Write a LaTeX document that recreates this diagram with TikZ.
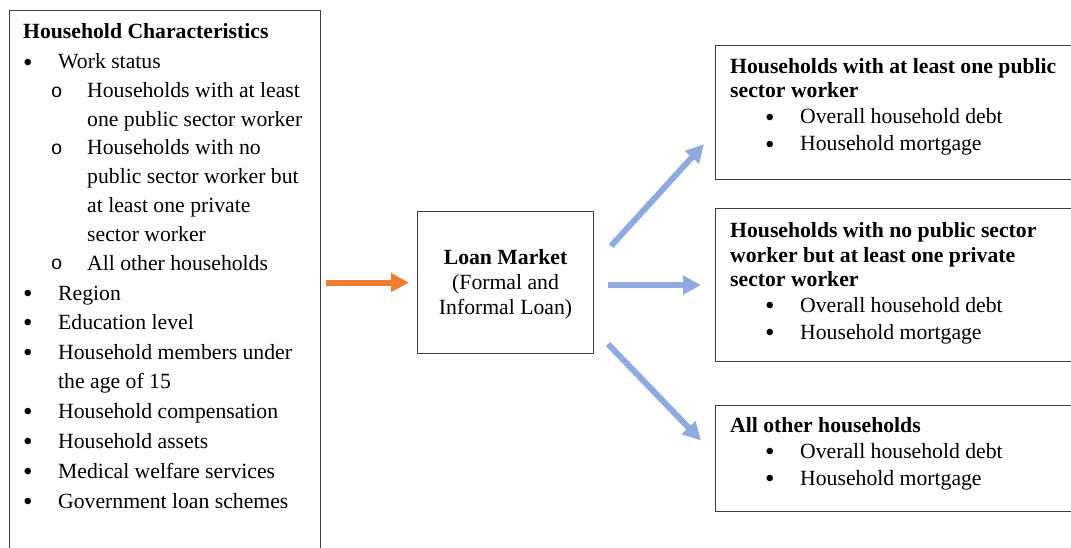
\documentclass[tikz,border=0pt]{standalone}
\usepackage{fontspec}
\usepackage{graphicx}
\setmainfont{Liberation Serif}
\newfontfamily\monofont{Liberation Mono}
\usetikzlibrary{arrows.meta,calc}
\definecolor{arrorange}{HTML}{ED7D31}
\definecolor{arrblue}{HTML}{8FAADC}
\definecolor{boxgray}{HTML}{404040}
\newcommand{\bul}{\llap{\raisebox{-2.6pt}{\scalebox{1.25}{\textbullet}}\hspace{25.5pt}}}
\newcommand{\subbul}{\llap{\raisebox{0.8pt}{\monofont\fontsize{19.5}{19.5}\selectfont o}\hspace{24.5pt}}}
\begin{document}
\begin{tikzpicture}[x=1pt,y=-1pt,
  frame/.style={draw=boxgray,line width=1.1pt,inner sep=0pt},
  txt/.style={anchor=base west,inner sep=0pt,font=\fontsize{21.7}{25}\selectfont},
  bold/.style={anchor=base west,inner sep=0pt,font=\fontsize{21.7}{25}\selectfont\bfseries},
  flow/.style={line width=6pt,-{Triangle[length=18pt,width=18pt]}}]
\useasboundingbox (0,0) rectangle (1071,548);
\fill[white] (0,0) rectangle (1071,548);
\clip (0,0) rectangle (1071,548);

% boxes
\node[frame,anchor=north west,minimum width=311pt,minimum height=560pt] (hc) at (9,10) {};
\node[frame,anchor=north west,minimum width=176pt,minimum height=142pt] (loan) at (417,211) {};
\node[inner sep=0pt,align=center,font=\fontsize{21.7}{25}\selectfont] (loantxt) at ($(loan.center)+(0,2)$)
      {\textbf{Loan Market}\\(Formal and\\Informal Loan)};
\node[frame,anchor=north west,minimum width=370pt,minimum height=134pt] (b1) at (715,45) {};
\node[frame,anchor=north west,minimum width=370pt,minimum height=153pt] (b2) at (715,208) {};
\node[frame,anchor=north west,minimum width=370pt,minimum height=106pt] (b3) at (715,405) {};

% left text
\node[bold] (hct) at (23,39) {Household Characteristics};
\node[txt] (l1) at (58,69) {\bul Work status};
\node[txt] (l2) at (87,98) {\subbul Households with at least};
\node[txt] (l3) at (87,127) {one public sector worker};
\node[txt] (l4) at (87,155) {\subbul Households with no};
\node[txt] (l5) at (87,184) {public sector worker but};
\node[txt] (l6) at (87,213) {at least one private};
\node[txt] (l7) at (87,241) {sector worker};
\node[txt] (l8) at (87,270) {\subbul All other households};
\node[txt] (l9) at (58,300) {\bul Region};
\node[txt] (l10) at (58,329) {\bul Education level};
\node[txt] (l11) at (58,359) {\bul Household members under};
\node[txt] (l12) at (58,388) {the age of 15};
\node[txt] (l13) at (58,418) {\bul Household compensation};
\node[txt] (l14) at (58,448) {\bul Household assets};
\node[txt] (l15) at (58,478) {\bul Medical welfare services};
\node[txt] (l16) at (58,508) {\bul Government loan schemes};

% right text
\node[bold] (b1t1) at (730,74) {Households with at least one public};
\node[bold] (b1t2) at (730,98) {sector worker};
\node[txt] (b1a) at (800,124) {\bul Overall household debt};
\node[txt] (b1b) at (800,151) {\bul Household mortgage};

\node[bold] (b2t1) at (730,237) {Households with no public sector};
\node[bold] (b2t2) at (730,262) {worker but at least one private};
\node[bold] (b2t3) at (730,286) {sector worker};
\node[txt] (b2a) at (800,312) {\bul Overall household debt};
\node[txt] (b2b) at (800,339) {\bul Household mortgage};

\node[bold] (b3t1) at (730,432) {All other households};
\node[txt] (b3a) at (800,458) {\bul Overall household debt};
\node[txt] (b3b) at (800,485) {\bul Household mortgage};

% arrows
\draw[flow,arrorange,shorten <=5pt,shorten >=8pt] (hc.east|-loan.west) -- (loan.west);
\draw[flow,arrblue,shorten <=14pt,shorten >=14pt] (loan.east|-b2.west) -- (b2.west);
\draw[flow,arrblue] ($(loan.north east)+(17,35)$) -- ($(b1.south west)+(-11,-36)$);
\draw[flow,arrblue] ($(loan.south east)+(14,-10)$) -- ($(b3.west)+(-14,-18)$);
\end{tikzpicture}
\end{document}
